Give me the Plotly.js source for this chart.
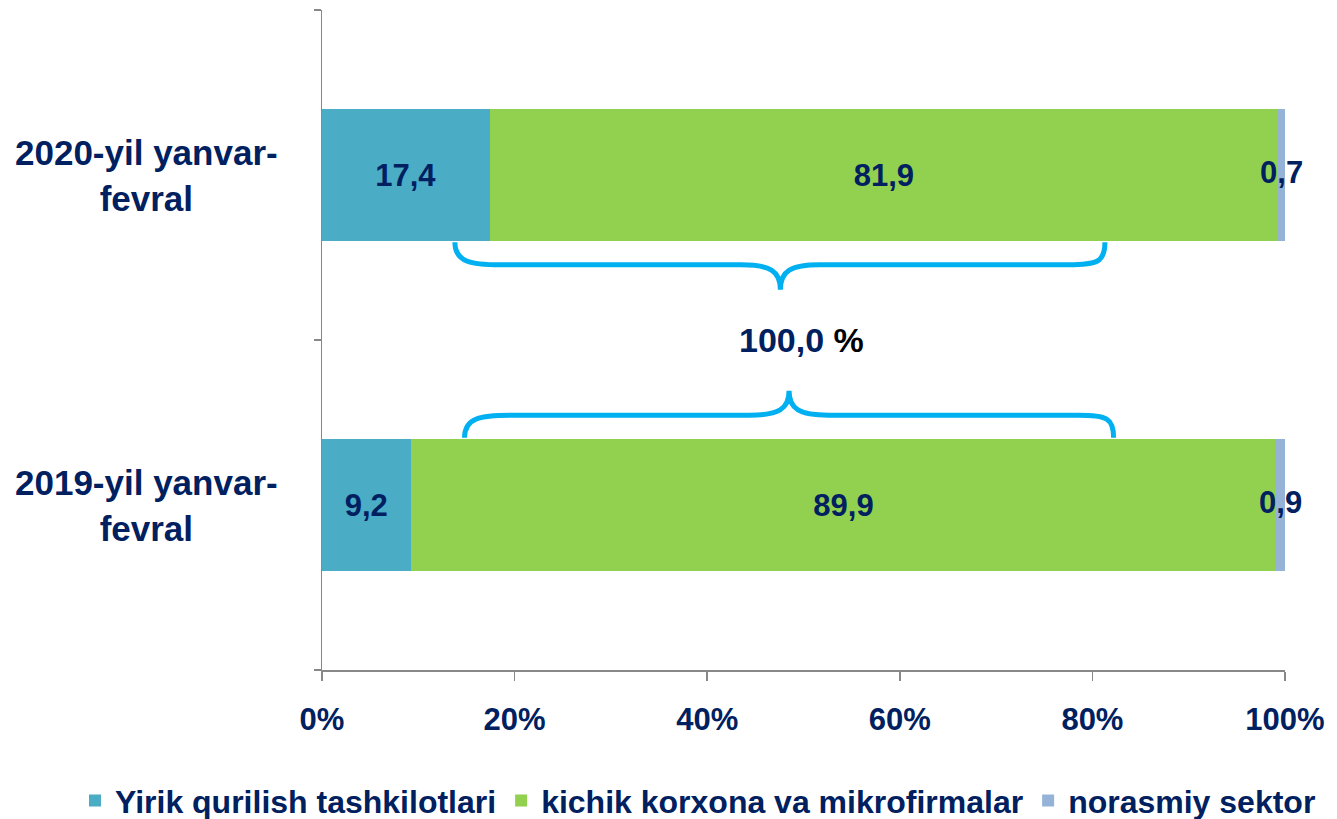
<!DOCTYPE html>
<html>
<head>
<meta charset="utf-8">
<script src="https://cdn.plot.ly/plotly-3.0.1.min.js"></script>
<style>html,body{margin:0;padding:0;background:#fff;}#chart{width:1337px;height:819px;}</style>
</head>
<body>
<div id="chart"></div>
<script>
var categories = ["2019-yil yanvar-fevral", "2020-yil yanvar-fevral"];
var categoryLabels = ["2019-yil yanvar-<br>fevral", "2020-yil yanvar-<br>fevral"];
var seriesNames = ["Yirik qurilish tashkilotlari", "kichik korxona va mikrofirmalar", "norasmiy sektor"];
var yirik = [9.2, 17.4];
var kichik = [89.9, 81.9];
var norasmiy = [0.9, 0.7];
var xTicks = [0, 20, 40, 60, 80, 100];
var totalLabel = "100,0";

var navy = "#002060";
var font = "Liberation Sans, Arial, sans-serif";
var colors = ["#4BACC6", "#92D050", "#95B3D7"];
var values = [yirik, kichik, norasmiy];

function fmt(v){ return v.toFixed(1).replace(".", ","); }
var labelFont = {family: font, size: 31, color: navy, weight: "bold"};

var traces = values.map(function(vals, i){
  var last = (i === values.length - 1);
  return {
    type: "bar",
    orientation: "h",
    name: seriesNames[i],
    y: categories,
    x: vals,
    width: 0.4,
    marker: {color: colors[i], line: {width: 0}},
    text: last ? null : vals.map(fmt),
    textposition: last ? "none" : "inside",
    insidetextanchor: "middle",
    constraintext: "none",
    textangle: 0,
    textfont: labelFont,
    hoverinfo: "x+name"
  };
});

// labels for the thin last segment, centred on that segment
traces.push({
  type: "scatter",
  mode: "text",
  showlegend: false,
  y: categories,
  x: norasmiy.map(function(v, j){ return yirik[j] + kichik[j] + v / 2; }),
  text: norasmiy.map(fmt),
  textposition: "middle center",
  textfont: labelFont,
  cliponaxis: false,
  hoverinfo: "skip"
});

var braceColor = "#00B0F0";
var shapes = [
  {type: "path", xref: "x", yref: "paper",
   path: "M 13.8,0.648 C 13.8,0.618 15.5,0.614 18.5,0.614 L 43.5,0.614 C 46.5,0.614 47.6,0.605 47.6,0.576 C 47.6,0.605 48.7,0.614 51.7,0.614 L 77.5,0.614 C 80.5,0.614 81.3,0.618 81.3,0.648",
   line: {color: braceColor, width: 5}},
  {type: "path", xref: "x", yref: "paper",
   path: "M 14.8,0.352 C 14.8,0.382 16.5,0.386 19.5,0.386 L 44.4,0.386 C 47.4,0.386 48.5,0.395 48.5,0.423 C 48.5,0.395 49.6,0.386 52.6,0.386 L 78.5,0.386 C 81.5,0.386 82.2,0.382 82.2,0.352",
   line: {color: braceColor, width: 5}}
];

var annotations = categories.map(function(c, i){
  return {xref: "paper", yref: "y", x: -0.182, y: c, xanchor: "center", yanchor: "middle",
          text: categoryLabels[i], showarrow: false, align: "center",
          font: {family: font, size: 35, color: navy, weight: "bold"}};
});
annotations.push({xref: "x", yref: "paper", x: 49.8, y: 0.5, xanchor: "center", yanchor: "middle",
  text: totalLabel + " <span style='color:#000000'>%</span>", showarrow: false,
  font: {family: font, size: 34, color: navy, weight: "bold"}});

var layout = {
  width: 1337, height: 819,
  margin: {l: 322, r: 52, t: 10, b: 149, autoexpand: false},
  paper_bgcolor: "#ffffff", plot_bgcolor: "#ffffff",
  barmode: "stack",
  showlegend: true,
  legend: {orientation: "h", traceorder: "normal",
           x: -0.2565, xanchor: "left", y: -0.198, yanchor: "middle",
           font: {family: font, size: 32, color: navy, weight: "bold"},
           itemwidth: 30, tracegroupgap: 0},
  xaxis: {range: [0, 100], tickvals: xTicks, ticktext: xTicks.map(function(t){return t + "%";}),
          ticks: "outside", ticklen: 9, tickcolor: "#888888", tickwidth: 1.5,
          showline: true, linecolor: "#888888", linewidth: 1.5,
          showgrid: false, zeroline: false, fixedrange: true,
          ticklabelstandoff: 12,
          tickfont: {family: font, size: 31, color: navy, weight: "bold"}},
  yaxis: {type: "category", categoryorder: "array", categoryarray: categories,
          range: [-0.5, 1.5],
          showticklabels: false, ticks: "outside", tickson: "boundaries", ticklen: 7,
          tickcolor: "#888888", tickwidth: 1.5,
          showline: true, linecolor: "#888888", linewidth: 1.5,
          showgrid: false, zeroline: false, fixedrange: true},
  shapes: shapes,
  annotations: annotations
};

Plotly.newPlot("chart", traces, layout, {displayModeBar: false, staticPlot: true});
</script>
</body>
</html>
